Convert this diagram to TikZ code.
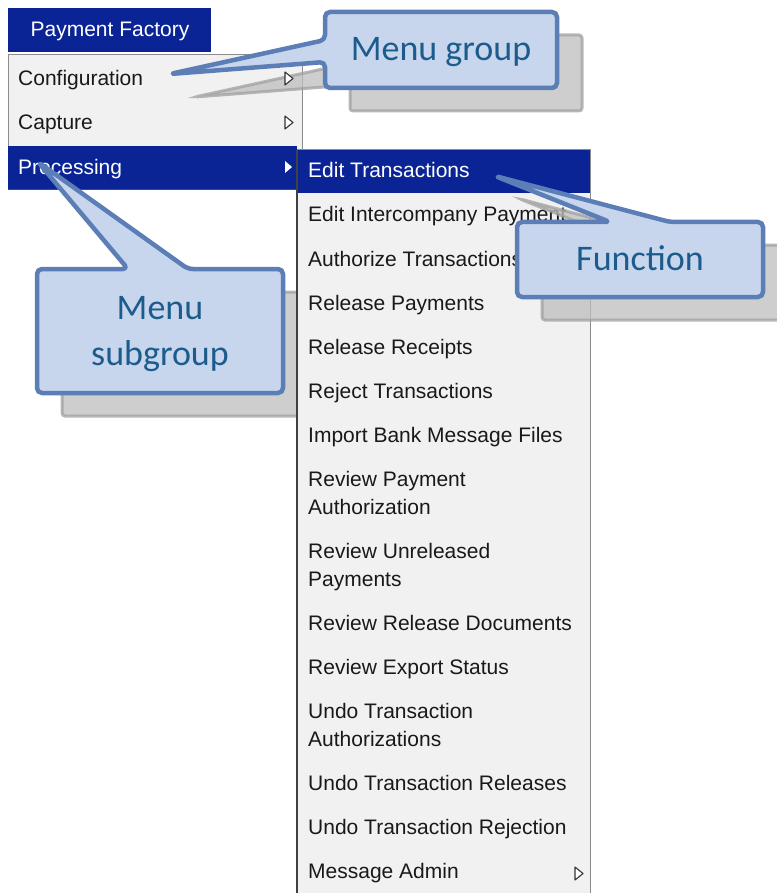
\documentclass[tikz,border=0pt]{standalone}
\usepackage{fontspec}
\newfontfamily\menufont{Liberation Sans}
\newfontfamily\calloutfont{Carlito}
\definecolor{menublue}{RGB}{10,36,150}
\definecolor{menubg}{RGB}{241,241,241}
\definecolor{menuframe}{RGB}{140,140,140}
\definecolor{calloutfill}{RGB}{199,213,237}
\definecolor{calloutline}{RGB}{92,126,182}
\definecolor{callouttext}{RGB}{28,92,140}
\definecolor{shadowfill}{RGB}{190,190,190}
\definecolor{shadowline}{RGB}{160,160,160}

% callout outlines (box + pointer), in pixel coordinates
\newcommand\groupcallout{(325,12) -- (557,12) -- (557,88) -- (325,88) -- (325,62) -- (170,74) -- (325,40) -- cycle}
\newcommand\functioncallout{(517,222) -- (610,222) -- (495,176) -- (670,222) -- (763,222) -- (763,297) -- (517,297) -- cycle}
\newcommand\subgroupcallout{(37,269) -- (128,269) -- (38,162) -- (188,269) -- (283,269) -- (283,393) -- (37,393) -- cycle}

\begin{document}
\begin{tikzpicture}[
    x=1pt, y=-1pt,
    menuitem/.style={anchor=base west, inner sep=0pt, text=black!90, align=left, font=\menufont\fontsize{21}{28}\selectfont},
    hiitem/.style={menuitem, text=white},
    callbox/.style={draw=calloutline, fill=calloutfill, line width=4.5pt, rounded corners=5pt, line join=round},
    callshadow/.style={draw=shadowline, fill=shadowfill, line width=3pt, rounded corners=3pt, opacity=0.75, shift={(25,23)}},
    calltext/.style={anchor=base, inner sep=0pt, text=callouttext, align=center, font=\calloutfont\fontsize{36}{46}\selectfont},
    openarrow/.style={draw=black!80, fill=white, line width=1.1pt, line join=round}
]
\useasboundingbox (0,0) rectangle (776,893);
\fill[white] (0,0) rectangle (776,893);

% main menu
\fill[menublue] (8,8) rectangle (211,52);
\node[hiitem, anchor=base] (tab_factory) at (110,37) {Payment Factory};
\fill[menubg] (8,55) rectangle (302,190);
\draw[menuframe, line width=1pt] (8,55) rectangle (302,190);
\fill[menublue] (8,146) rectangle (297,190);
\draw[black!70, line width=1pt] (8,190) -- (297,190);
\node[menuitem] (main_config) at (18,86) {Configuration};
\node[menuitem] (main_capture) at (18,130) {Capture};
\node[hiitem] (main_processing) at (18,175) {Processing};

% shadow behind the submenu
\draw[callshadow] \subgroupcallout;

% submenu (two-line items sit on their last baseline)
\fill[menubg] (297,150) rectangle (590,893);
\draw[menuframe, line width=1pt] (297,150) -- (590,150) -- (590,893);
\fill[menublue] (298,150) rectangle (590,193);
\draw[black!75, line width=1.3pt] (297,150) -- (297,893);
\node[hiitem] (sub_edit_trans) at (308,178) {Edit Transactions};
\node[menuitem] (sub_edit_interco) at (308,222) {Edit Intercompany Payment};
\node[menuitem] (sub_authorize) at (308,266) {Authorize Transactions};
\node[menuitem] (sub_rel_pay) at (308,310) {Release Payments};
\node[menuitem] (sub_rel_rec) at (308,354) {Release Receipts};
\node[menuitem] (sub_reject) at (308,398) {Reject Transactions};
\node[menuitem] (sub_import) at (308,442) {Import Bank Message Files};
\node[menuitem] (sub_rev_auth) at (308,514) {Review Payment\\Authorization};
\node[menuitem] (sub_rev_unrel) at (308,586) {Review Unreleased\\Payments};
\node[menuitem] (sub_rev_docs) at (308,630) {Review Release Documents};
\node[menuitem] (sub_rev_export) at (308,674) {Review Export Status};
\node[menuitem] (sub_undo_auth) at (308,746) {Undo Transaction\\Authorizations};
\node[menuitem] (sub_undo_rel) at (308,790) {Undo Transaction Releases};
\node[menuitem] (sub_undo_rej) at (308,834) {Undo Transaction Rejection};
\node[menuitem] (sub_msg_admin) at (308,878) {Message Admin};
\draw[openarrow] (575,867) -- (583,873.5) -- (575,880) -- cycle;

% callouts
\draw[callshadow] \groupcallout;
\draw[callshadow] \functioncallout;
\draw[openarrow] (285,72) -- (293,78.5) -- (285,85) -- cycle;
\draw[openarrow] (285,116) -- (293,122.5) -- (285,129) -- cycle;
\fill[white] (285,161) -- (292,167) -- (285,173) -- cycle;
\draw[callbox] \subgroupcallout;
\draw[callbox] \groupcallout;
\draw[callbox] \functioncallout;
\node[calltext] (lbl_group) at (441,61) {Menu group};
\node[calltext] (lbl_function) at (640,270) {Function};
\node[calltext] (lbl_subgroup) at (160,365) {Menu\\subgroup};
\end{tikzpicture}
\end{document}
